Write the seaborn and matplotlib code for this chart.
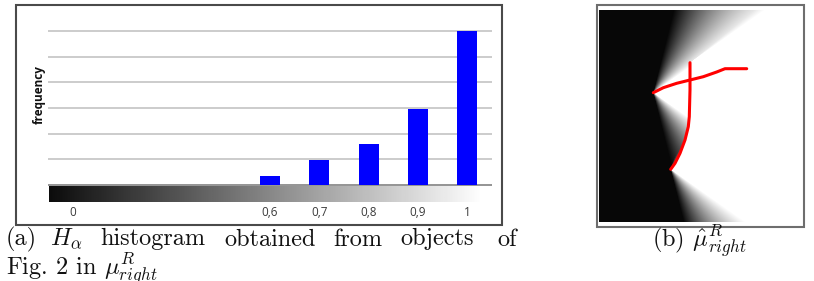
import numpy as np
import pandas as pd
import matplotlib
matplotlib.use("Agg")
import matplotlib.pyplot as plt
from matplotlib.patches import Rectangle
import seaborn as sns

# ---------------- data ----------------
bin_labels = ["0", "0,6", "0,7", "0,8", "0,9", "1"]
bin_positions = [0, 4, 5, 6, 7, 8]
bar_positions = [4, 5, 6, 7, 8]
bar_frequency = [0.36, 0.97, 1.6, 2.97, 6.0]
grid_levels = [0, 1, 2, 3, 4, 5, 6]

# reference object (red strokes) in pixel coords of panel (b)
stroke_h_x = [54.3, 64.3, 77.7, 91.0, 104.3, 117.7, 126.0, 147.7]
stroke_h_y = [82.7, 77.7, 73.3, 70.0, 66.7, 62.0, 58.7, 58.7]
stroke_v_x = [91.0, 91.0, 90.3, 89.3, 86.0, 81.0, 76.0, 71.7]
stroke_v_y = [52.7, 80.0, 106.7, 116.7, 130.0, 143.3, 153.3, 159.3]

W, H = 814, 281
sns.set_theme(style="white")
plt.rcParams["mathtext.fontset"] = "cm"
fig = plt.figure(figsize=(W / 100, H / 100), dpi=100)


def px_axes(l, t, r, b):
    return fig.add_axes([l / W, 1 - b / H, (r - l) / W, (b - t) / H])


# ---------------- panel (a) ----------------
ax = px_axes(48, 25.9, 492, 203)
df = pd.DataFrame({"pos": bar_positions, "freq": bar_frequency})
sns.barplot(data=df, x="pos", y="freq", native_scale=True, width=0.4,
            color="#0000ff", saturation=1, errorbar=None, linewidth=0,
            edgecolor="#0000ff", ax=ax, zorder=3)
ax.set_yticks(grid_levels)
ax.grid(axis="y", color="#c8c8c8", lw=1.3, zorder=1)
ax.grid(axis="x", visible=False)
ax.axhline(0, color="#8c8c8c", lw=1.2, zorder=2)
grad = np.linspace(0, 1, 256)[None, :]
ax.imshow(grad, cmap="gray", vmin=-0.05, vmax=1.0, extent=[-0.48, 8.3, -0.66, -0.04],
          aspect="auto", zorder=2, interpolation="bilinear")
ax.set_xlim(-0.5, 8.5)
ax.set_ylim(-0.7, 6.2)
ax.set_xticks(bin_positions, bin_labels)
ax.set_yticklabels([])
ax.tick_params(axis="x", length=0, pad=1.8, labelsize=8.5, labelcolor="#3a3a3a")
for lab in ax.get_xticklabels():
    lab.set_fontfamily("Open Sans")
ax.tick_params(axis="y", length=0)
for s in ax.spines.values():
    s.set_visible(False)
ax.set_xlabel("")
ax.set_ylabel("frequency", fontsize=8.5, fontweight="bold", family="Open Sans",
              color="#111111", va="center")
ax.yaxis.set_label_coords(-0.0203, 0.61)

fig.add_artist(Rectangle((15.5 / W, 1 - 224.5 / H), (502 - 15.5) / W, (224.5 - 5) / H,
                         transform=fig.transFigure, fill=False, ec="#4a4a4a", lw=1.5))

# ---------------- panel (b) ----------------
ax2 = px_axes(599, 10, 802, 222)
nx, ny = 203, 212
gx, gy = np.meshgrid(np.arange(nx) + 0.5, np.arange(ny) + 0.5)


def dense(xs, ys, n=25):
    px, py = [], []
    for i in range(len(xs) - 1):
        t = np.linspace(0, 1, n, endpoint=False)
        px.extend(xs[i] + t * (xs[i + 1] - xs[i]))
        py.extend(ys[i] + t * (ys[i + 1] - ys[i]))
    px.append(xs[-1]); py.append(ys[-1])
    return np.array(px), np.array(py)


ox1, oy1 = dense(stroke_h_x, stroke_h_y)
ox2, oy2 = dense(stroke_v_x, stroke_v_y)
ox = np.concatenate([ox1, ox2]); oy = np.concatenate([oy1, oy2])
land = np.zeros_like(gx)
theta0, theta1 = 76.0, 35.0
for qx, qy in zip(ox, oy):
    ang = np.degrees(np.arctan2(np.abs(gy - qy), gx - qx))
    land = np.maximum(land, np.clip((theta0 - ang) / (theta0 - theta1), 0, 1))

sns.heatmap(land, cmap="gray", vmin=-0.03, vmax=1, cbar=False,
            xticklabels=False, yticklabels=False, ax=ax2)
ax2.plot(stroke_h_x, stroke_h_y, color="red", lw=2.2, solid_capstyle="round")
ax2.plot(stroke_v_x, stroke_v_y, color="red", lw=2.2, solid_capstyle="round")
ax2.set_xlim(0, nx)
ax2.set_ylim(ny, 0)
ax2.set_axis_off()

fig.add_artist(Rectangle((596.5 / W, 1 - 227 / H), (804 - 596.5) / W, (227 - 5) / H,
                         transform=fig.transFigure, fill=False, ec="#6e6e6e", lw=1.5))

# ---------------- captions ----------------
cap = dict(fontsize=17.5, family="cmr10", va="baseline", ha="left", color="#111111")
line1 = [("(a)", 6), (r"$H_\alpha$", 50), ("histogram", 100), ("obtained", 224),
         ("from", 333), ("objects", 400), ("of", 497)]
for word, x in line1:
    fig.text(x / W, 1 - 245.5 / H, word, **cap)
fig.text(6 / W, 1 - 274.5 / H, r"Fig. 2 in $\mu^R_{right}$", **cap)
fig.text(700 / W, 1 - 246.5 / H, r"(b) $\hat{\mu}^R_{right}$",
         **{**cap, "ha": "center"})

fig.savefig("out.png", dpi=100)
